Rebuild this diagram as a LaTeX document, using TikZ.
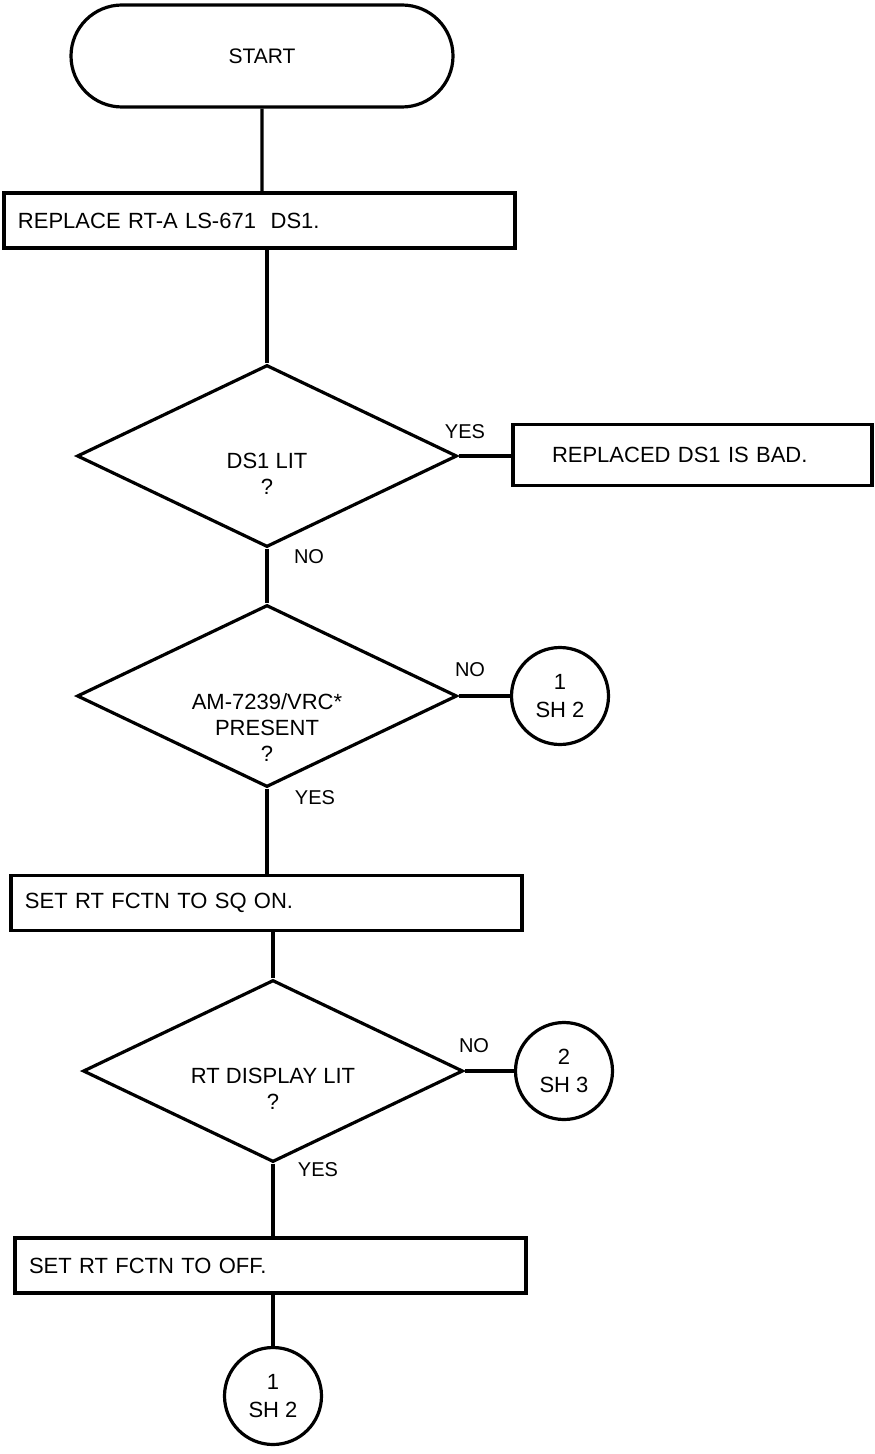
\documentclass[tikz,border=0pt]{standalone}
\usepackage{fontspec}
\setmainfont{Liberation Sans}
\usetikzlibrary{shapes.geometric,shapes.misc}
\tikzset{
  term/.style={draw, rounded rectangle, line width=1.6pt, font=\fontsize{10.5}{13}\selectfont,
               minimum width=191pt, minimum height=51pt, inner sep=0pt},
  actbox/.style={draw, line width=1.6pt, minimum width=255.5pt, minimum height=27.5pt,
                 text width=241.5pt, inner xsep=7pt, inner ysep=0pt, align=left},
  badbox/.style={draw, line width=1.6pt, minimum width=179.5pt, minimum height=30.5pt,
                 text width=140.5pt, inner xsep=19.5pt, inner ysep=0pt, align=left},
  decide/.style={draw, diamond, line width=1.6pt, minimum width=190pt,
                 minimum height=91pt, inner sep=0pt},
  qtext/.style={align=center, inner sep=0pt, font=\fontsize{11}{13}\selectfont},
  sheet/.style={draw, circle, line width=1.6pt, minimum size=48.5pt, inner sep=0pt,
                align=center, font=\fontsize{11}{14}\selectfont},
  lbl/.style={inner sep=0pt, font=\fontsize{10}{12}\selectfont},
  flow/.style={line width=1.6pt},
}
\begin{document}
\begin{tikzpicture}[x=0.5pt, y=-0.5pt, every node/.style={font=\fontsize{11}{13}\selectfont}]
\useasboundingbox (0,0) rectangle (874,1454);

% Main column
\node[term] (start) at (262,56) {START};
\node[actbox] (replace) at (259.5,220.5) {REPLACE RT-A LS-671\ \ DS1.};

\node[decide] (lit) at (267,456) {};
\node[qtext] (littext) at (267,474) {DS1 LIT\\?};
\node[badbox] (bad) at (692.5,455) {REPLACED DS1 IS BAD.};

\node[decide] (amp) at (267,696) {};
\node[qtext] (amptext) at (267,728) {AM-7239/VRC*\\PRESENT\\?};
\node[sheet] (sheettwoa) at (560,696) {1\\SH 2};

\node[actbox] (sqon) at (266.5,903) {SET RT FCTN TO SQ ON.};

\node[decide] (disp) at (273,1071) {};
\node[qtext] (disptext) at (273,1089) {RT DISPLAY LIT\\?};
\node[sheet] (sheetthree) at (564,1071) {2\\SH 3};

\node[actbox] (off) at (270.5,1265.5) {SET RT FCTN TO OFF.};
\node[sheet] (sheettwob) at (273,1396) {1\\SH 2};

% Branch labels
\node[lbl] (yeslit) at (465,432) {YES};
\node[lbl] (nolit) at (309,557) {NO};
\node[lbl] (noamp) at (470,670) {NO};
\node[lbl] (yesamp) at (315,798) {YES};
\node[lbl] (nodisp) at (474,1046) {NO};
\node[lbl] (yesdisp) at (318,1170) {YES};

% Connectors
\draw[flow] (start) -- (start |- replace.north);
\draw[flow] (replace.south -| lit) -- (lit.north);
\draw[flow] (lit.east) -- (lit.east -| bad.west);
\draw[flow] (lit.south) -- (amp.north);
\draw[flow] (amp.east) -- (sheettwoa.west);
\draw[flow] (amp.south) -- (amp.south |- sqon.north);
\draw[flow] (sqon.south -| disp) -- (disp.north);
\draw[flow] (disp.east) -- (sheetthree.west);
\draw[flow] (disp.south) -- (disp.south |- off.north);
\draw[flow] (off.south -| sheettwob) -- (sheettwob.north);
\end{tikzpicture}
\end{document}
